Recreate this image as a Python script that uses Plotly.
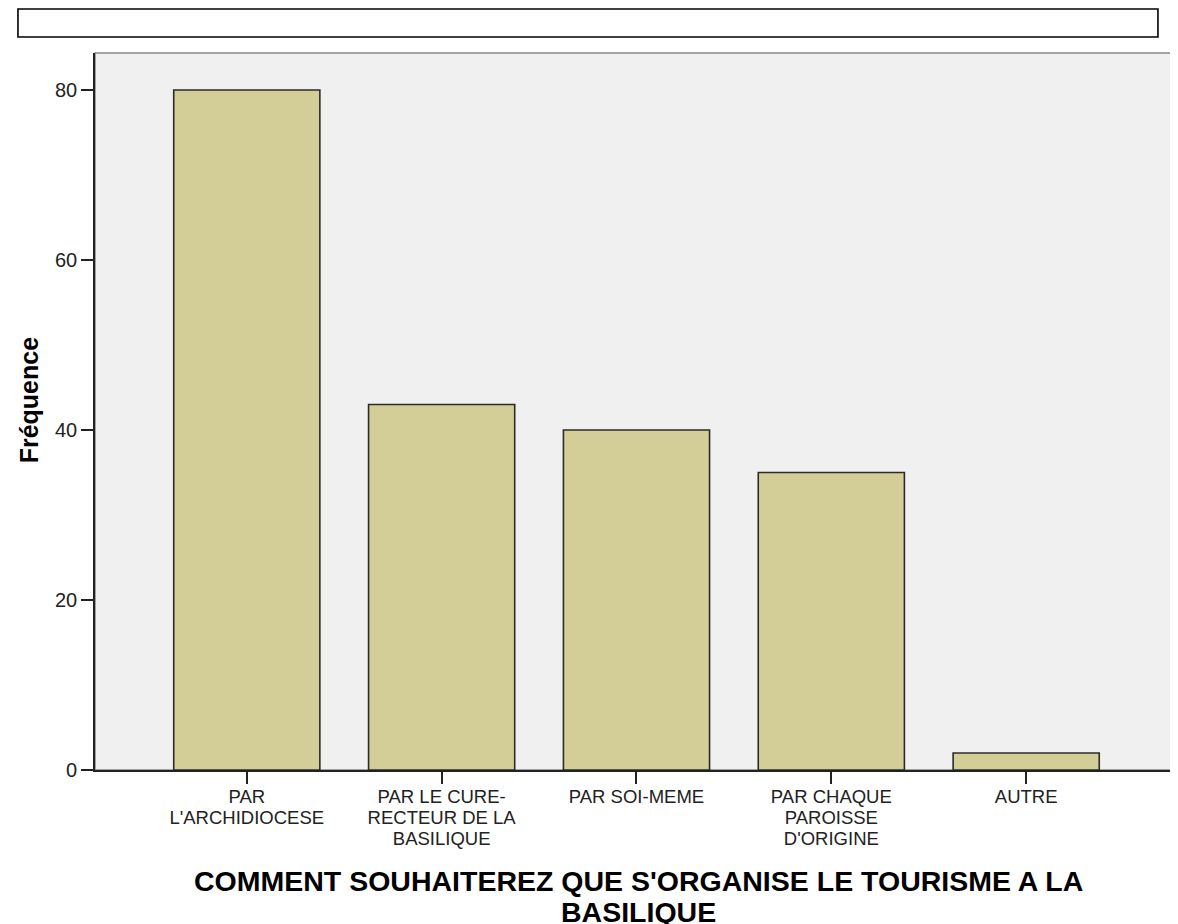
import plotly.graph_objects as go

categories = [["PAR", "L'ARCHIDIOCESE"],
              ["PAR LE CURE-", "RECTEUR DE LA", "BASILIQUE"],
              ["PAR SOI-MEME"],
              ["PAR CHAQUE", "PAROISSE", "D'ORIGINE"],
              ["AUTRE"]]
values = [80, 43, 40, 35, 2]
y_ticks = [0, 20, 40, 60, 80]
x_title_lines = ["COMMENT SOUHAITEREZ QUE S'ORGANISE LE TOURISME A LA", "BASILIQUE"]
y_title = "Fréquence"

FONT = "Liberation Sans, Arial, sans-serif"


def big(lines, px):
    return "<br>".join(f"<span style='font-size:{px}px'>{s}</span>" for s in lines)


ticktext = [big(c, 18.5) for c in categories]

fig = go.Figure(go.Bar(
    x=list(range(len(categories))), y=values, width=0.75,
    marker=dict(color="#D3CE97", line=dict(color="#2b2b2b", width=1.6)),
))

# page has an 8px body margin: figure is 8px smaller and shifted
fig.update_layout(
    width=1170, height=916,
    margin=dict(l=87, r=1, t=45, b=154),
    paper_bgcolor="white", plot_bgcolor="#F0F0F0",
    showlegend=False,
    font=dict(family=FONT, size=16, color="#222"),
)
fig.update_xaxes(
    range=[-0.779, 4.774], tickmode="array",
    tickvals=list(range(len(categories))), ticktext=ticktext,
    ticks="outside", ticklen=12, tickwidth=1.6, tickcolor="#222",
    showline=True, linecolor="#222", linewidth=1.6, showgrid=False, zeroline=False,
    tickfont=dict(size=16, family=FONT, color="#222"),
)
fig.update_yaxes(
    range=[0, 84.35], tickmode="array", tickvals=y_ticks,
    ticks="outside", ticklen=12, tickwidth=1.6, tickcolor="#222",
    showline=True, linecolor="#222", linewidth=1.6, showgrid=False, zeroline=False,
    tickfont=dict(size=20, family=FONT, color="#222"),
)
fig.add_annotation(text=big(x_title_lines, 28.5), xref="paper", yref="paper",
                   x=0.502, y=-0.1764, xanchor="center", yanchor="middle", showarrow=False,
                   font=dict(size=24, family=FONT, color="black", weight="bold"))
fig.add_annotation(text=y_title, textangle=-90, xref="paper", yref="paper",
                   x=-0.0607, y=0.516, xanchor="center", yanchor="middle", showarrow=False,
                   font=dict(size=25, family=FONT, color="black", weight="bold"))
fig.add_shape(type="rect", xref="paper", yref="paper", x0=0, x1=1, y0=0, y1=1,
              line=dict(color="#888888", width=1.5), fillcolor="rgba(0,0,0,0)", layer="below")
fig.add_shape(type="rect", xref="paper", yref="paper", x0=-0.0712, x1=0.9824, y0=1.0223, y1=1.0614,
              line=dict(color="black", width=1.6), fillcolor="white")

fig.write_html("out.html")
